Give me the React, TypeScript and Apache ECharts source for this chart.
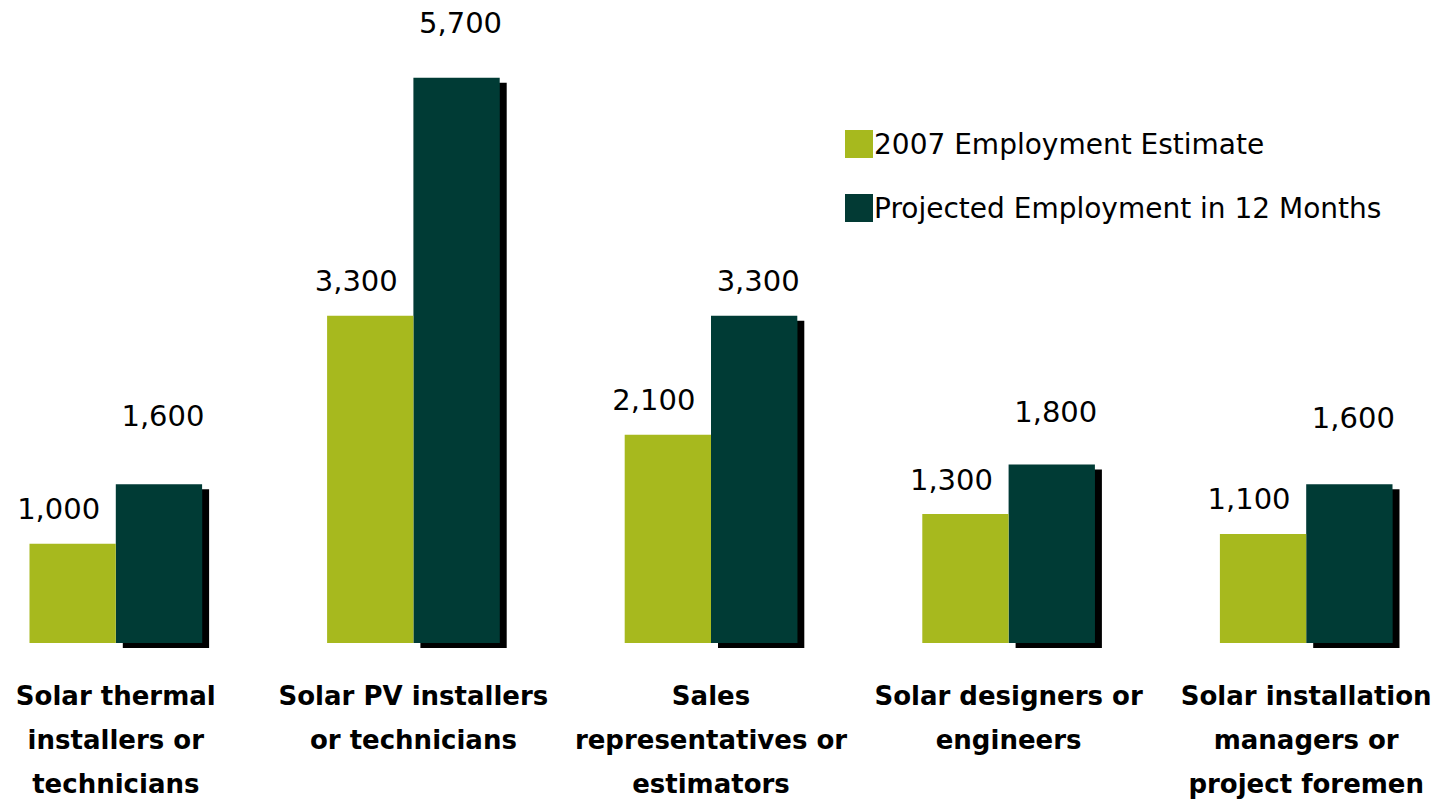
import React, { useEffect, useRef } from "react";
import * as echarts from "echarts";

const categories = [
  "Solar thermal\ninstallers or\ntechnicians",
  "Solar PV installers\nor technicians",
  "Sales\nrepresentatives or\nestimators",
  "Solar designers or\nengineers",
  "Solar installation\nmanagers or\nproject foremen",
];
const seriesNames = ["2007 Employment Estimate", "Projected Employment in 12 Months"];
const estimate2007 = [1000, 3300, 2100, 1300, 1100];
const projected12 = [1600, 5700, 3300, 1800, 1600];

const darkLabelDistance = [54, 40, 20, 38, 52];

export default function App() {
  const ref = useRef<HTMLDivElement>(null);
  useEffect(() => {
    if (!ref.current) return;
    const chart = echarts.init(ref.current, null, { renderer: "svg" });
    const fmt = (v: number) => v.toLocaleString("en-US");
    chart.setOption({
      animation: false,
      backgroundColor: "#ffffff",
      textStyle: { fontFamily: "DejaVu Sans" },
      grid: { left: -33, width: 1488, top: 48, bottom: 165, containLabel: false, outerBoundsMode: "none" },
      legend: {
        orient: "vertical",
        left: 840,
        top: 125,
        itemWidth: 28,
        itemHeight: 28,
        itemGap: 36,
        icon: "rect",
        textStyle: { fontSize: 28, color: "#000", fontFamily: "DejaVu Sans", padding: [0, 0, 0, -4] },
        data: seriesNames,
      },
      xAxis: {
        type: "category",
        data: categories,
        axisLine: { show: false },
        axisTick: { show: false },
        axisLabel: {
          interval: 0,
          margin: 31,
          fontSize: 26,
          fontWeight: "bold",
          color: "#000",
          lineHeight: 44,
          fontFamily: "DejaVu Sans",
        },
      },
      yAxis: { type: "value", min: 0, max: 6000, show: false, splitLine: { show: false } },
      series: [
        {
          name: seriesNames[0],
          type: "bar",
          data: estimate2007,
          barGap: "0%",
          barCategoryGap: "42%",
          itemStyle: { color: "#A7B91E" },
          label: {
            show: true,
            position: "top",
            distance: 20,
            offset: [-14, 0],
            fontSize: 29,
            color: "#000",
            formatter: (p: any) => fmt(p.value),
          },
          z: 2,
        },
        {
          name: seriesNames[1],
          type: "bar",
          data: projected12.map((v, i) => ({
            value: v,
            label: { distance: darkLabelDistance[i] },
          })),
          itemStyle: {
            color: "#023A34",
            shadowColor: "#000000",
            shadowBlur: 0,
            shadowOffsetX: 7,
            shadowOffsetY: 5,
          },
          label: {
            show: true,
            position: "top",
            offset: [4, 0],
            fontSize: 29,
            color: "#000",
            formatter: (p: any) => fmt(p.value),
          },
          z: 1,
        },
      ],
    });
    return () => chart.dispose();
  }, []);
  return (
    <div
      ref={ref}
      style={{ position: "fixed", left: 0, top: 0, width: 1454, height: 808 }}
    />
  );
}
